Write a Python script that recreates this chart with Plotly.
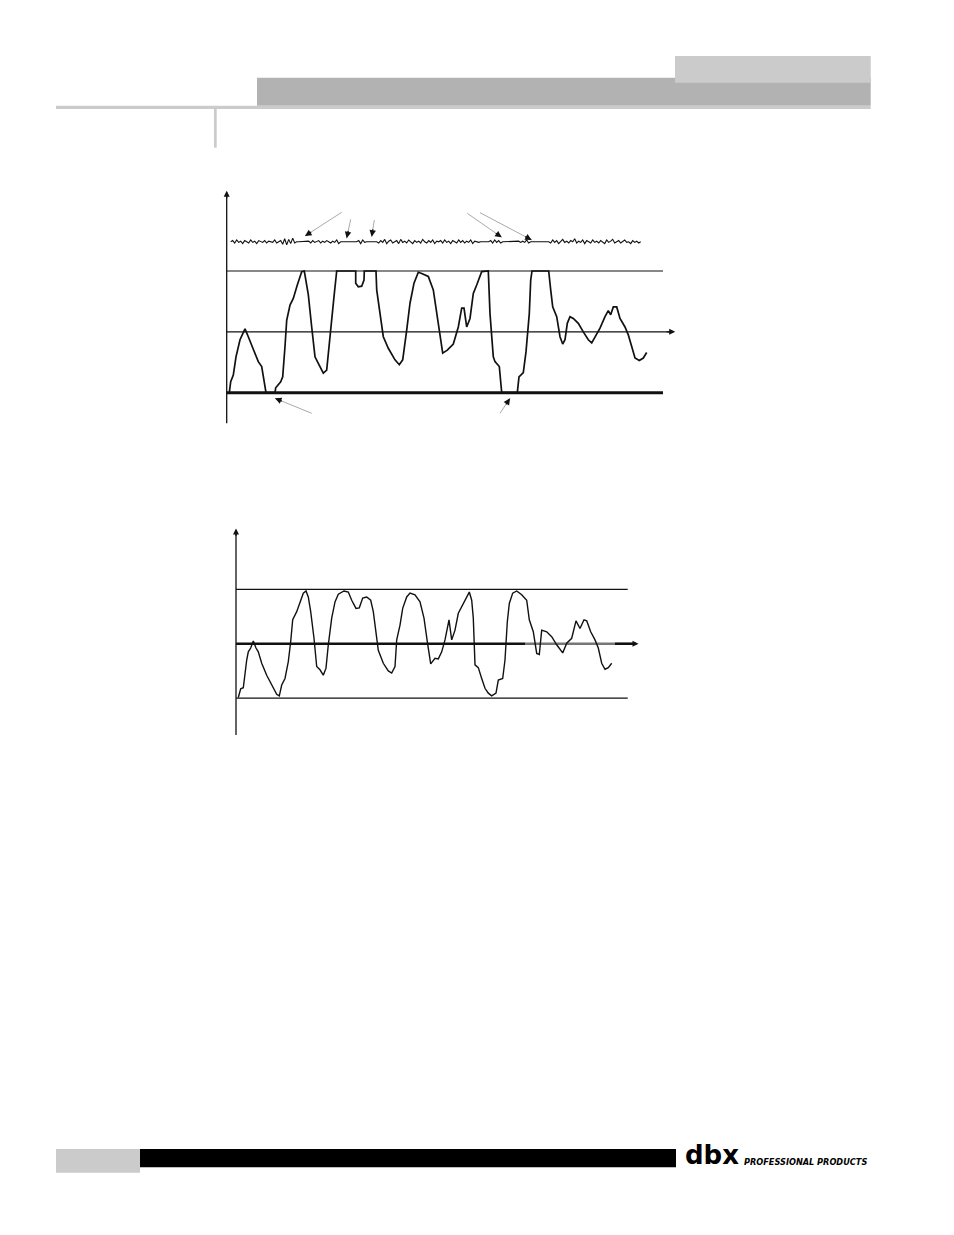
import plotly.graph_objects as go

W, H = 954, 1235
OFF = 8  # page body margin of the html output

# ---------------- data ----------------
# Figure 1 (upper): input programme signal. time units, level: 0 = centre line, +/-1 = threshold lines
sig1_t = [2.6, 4.0, 6.6, 9.3, 13.3, 18.3, 21.6, 26.6, 31.6, 35.0, 39.3, 48.3, 49.0, 54.0, 56.0, 58.3,
          60.0, 63.3, 66.6, 70.6, 75.0, 77.6, 80.0, 81.6, 85.0, 88.3, 91.6, 96.6, 100.0, 103.3, 107.3,
          110.0, 129.0, 129.0, 131.6, 135.0, 137.3, 137.6, 149.3, 150.0, 153.3, 156.6, 161.6, 168.3,
          172.6, 176.0, 180.0, 183.3, 187.3, 191.6, 195.0, 201.6, 206.6, 211.6, 216.0, 220.6, 226.6,
          231.6, 235.0, 237.3, 240.0, 243.3, 246.6, 250.0, 255.0, 261.6, 263.3, 266.6, 268.3, 272.6,
          275.0, 290.6, 292.3, 296.6, 299.3, 302.6, 304.0, 305.3, 322.0, 324.0, 326.0, 330.0, 333.3,
          336.0, 338.3, 340.6, 343.3, 346.6, 351.6, 356.6, 361.6, 365.0, 368.3, 373.3, 378.3, 381.6,
          384.0, 386.6, 390.0, 393.3, 398.3, 401.6, 405.0, 408.3, 412.6, 416.6, 420.0]
sig1_lv = [-1.0, -0.82, -0.71, -0.41, -0.13, 0.05, -0.08, -0.30, -0.49, -0.57, -1.0, -1.0, -0.92, -0.82,
           -0.74, -0.24, 0.19, 0.44, 0.55, 0.77, 0.99, 1.0, 0.80, 0.61, 0.08, -0.41, -0.52, -0.68, -0.63,
           -0.13, 0.58, 1.0, 1.0, 0.80, 0.74, 0.75, 0.85, 1.0, 1.0, 0.69, 0.30, -0.08, -0.27, -0.46,
           -0.54, -0.46, 0.03, 0.47, 0.80, 0.98, 0.96, 0.91, 0.69, 0.14, -0.35, -0.30, -0.20, 0.08,
           0.39, 0.39, 0.08, 0.22, 0.63, 0.77, 0.99, 1.0, 0.30, -0.41, -0.49, -0.57, -1.0, -1.0, -0.74,
           -0.67, -0.33, 0.30, 0.85, 1.0, 1.0, 0.69, 0.41, 0.25, -0.08, -0.20, -0.13, 0.14, 0.25, 0.22,
           0.14, 0.0, -0.13, -0.18, -0.08, 0.06, 0.25, 0.35, 0.28, 0.41, 0.41, 0.22, 0.08, -0.05,
           -0.24, -0.43, -0.47, -0.43, -0.34]

# Figure 1: noise floor trace above the signal (sampled every 2 time units)
noise_t = list(range(4, 416, 2))
noise_lv = [1.48, 1.50, 1.46, 1.51, 1.47, 1.49, 1.45, 1.50, 1.48, 1.46, 1.51, 1.47, 1.49, 1.45, 1.50,
            1.48, 1.47, 1.50, 1.46, 1.49, 1.48, 1.47, 1.51, 1.46, 1.48, 1.50,
            1.44, 1.53, 1.43, 1.52, 1.45, 1.54, 1.46,
            1.48, 1.48, 1.48, 1.48, 1.48, 1.48,
            1.49, 1.46, 1.50, 1.47, 1.48, 1.50, 1.46, 1.49, 1.47, 1.50, 1.48, 1.46, 1.49, 1.47,
            1.51, 1.45, 1.48, 1.48, 1.48, 1.48, 1.48, 1.48, 1.48, 1.48, 1.48,
            1.50, 1.45, 1.51, 1.47,
            1.48, 1.48, 1.48, 1.48, 1.48, 1.48,
            1.46, 1.50, 1.47, 1.52, 1.45, 1.49, 1.51, 1.46, 1.48, 1.50, 1.45, 1.52, 1.47, 1.49, 1.46,
            1.51, 1.48, 1.45, 1.50, 1.47, 1.49, 1.46, 1.52, 1.48, 1.46, 1.50, 1.47, 1.51, 1.45, 1.49,
            1.48, 1.50, 1.46, 1.51, 1.47, 1.49, 1.45, 1.50, 1.48, 1.46, 1.51, 1.47, 1.50, 1.46, 1.49,
            1.47, 1.51, 1.45, 1.49, 1.48, 1.47,
            1.48, 1.48, 1.47, 1.48, 1.48,
            1.50, 1.46, 1.51, 1.47, 1.50, 1.46,
            1.48, 1.48, 1.48, 1.48, 1.48, 1.48, 1.48, 1.48,
            1.49, 1.47, 1.49, 1.47, 1.51, 1.46,
            1.48, 1.48, 1.48, 1.48, 1.48, 1.48, 1.48, 1.48, 1.48, 1.48,
            1.46, 1.51, 1.47, 1.50, 1.45, 1.49, 1.52, 1.47, 1.49, 1.46, 1.50, 1.48, 1.53, 1.46, 1.49,
            1.47, 1.51, 1.45, 1.50, 1.48, 1.46, 1.51, 1.47, 1.49, 1.46, 1.50, 1.48, 1.45, 1.51, 1.47,
            1.49, 1.52, 1.46, 1.48, 1.50, 1.46, 1.49, 1.51, 1.47, 1.48, 1.45, 1.50, 1.47, 1.49, 1.46,
            1.48]

# Figure 2 (lower): processed signal
sig2_t = [2.3, 4.7, 7.3, 9.0, 10.7, 12.3, 14.7, 17.3, 20.0, 22.3, 25.7, 30.7, 35.7, 40.7, 43.3, 45.7,
          49.0, 52.3, 54.7, 56.7, 60.7, 64.0, 67.3, 70.0, 72.3, 74.7, 78.0, 80.7, 84.0, 87.3, 90.0,
          92.3, 95.7, 99.0, 102.3, 108.0, 112.3, 115.7, 120.0, 123.3, 126.7, 130.7, 134.7, 137.3,
          140.0, 142.3, 147.3, 152.3, 155.7, 159.0, 160.7, 164.0, 166.7, 170.7, 174.0, 179.0, 184.0,
          188.0, 191.3, 194.7, 199.0, 202.3, 205.7, 209.0, 211.3, 213.0, 215.7, 219.0, 222.3, 224.7,
          229.0, 233.3, 235.7, 237.3, 239.0, 242.3, 245.7, 249.0, 252.3, 255.7, 260.0, 262.3, 266.7,
          269.0, 271.3, 273.3, 276.7, 280.7, 285.7, 290.7, 293.3, 297.3, 300.7, 303.3, 305.7, 310.7,
          315.7, 320.7, 326.7, 330.7, 335.7, 340.0, 344.0, 348.0, 350.7, 354.7, 359.0, 362.3, 365.7,
          369.0, 372.3, 375.7]
sig2_lv = [-0.99, -0.83, -0.81, -0.52, -0.30, -0.15, -0.08, 0.05, -0.08, -0.15, -0.36, -0.58, -0.76,
           -0.93, -0.96, -0.76, -0.64, -0.33, 0.04, 0.44, 0.59, 0.77, 0.93, 0.97, 0.86, 0.59, 0.10,
           -0.42, -0.48, -0.58, -0.45, -0.02, 0.47, 0.77, 0.91, 0.97, 0.95, 0.80, 0.65, 0.66, 0.84,
           0.86, 0.80, 0.59, 0.22, -0.12, -0.36, -0.50, -0.54, -0.42, 0.07, 0.34, 0.65, 0.86, 0.93,
           0.90, 0.77, 0.47, 0.04, -0.37, -0.27, -0.28, -0.15, 0.07, 0.28, 0.44, 0.07, 0.25, 0.56,
           0.65, 0.80, 0.95, 0.80, 0.47, -0.39, -0.44, -0.64, -0.82, -0.91, -0.96, -0.91, -0.67,
           -0.64, -0.30, 0.40, 0.74, 0.93, 0.97, 0.90, 0.80, 0.44, 0.22, -0.18, -0.20, 0.25, 0.22,
           0.13, -0.02, -0.17, 0.01, 0.10, 0.42, 0.28, 0.44, 0.42, 0.22, 0.07, -0.08, -0.36, -0.47,
           -0.44, -0.36]

# ---------------- geometry helpers ----------------
def PX(x):
    return (x - OFF) / W


def PY(y):
    return 1 - (y - OFF) / H


# chart frames: origin (px), px per time unit, centre line (px), px per level unit, pixel box
C1 = dict(x0=226.7, xs=1.0, y0=331.85, ys=60.85, box=(215, 180, 700, 430))
C2 = dict(x0=236.0, xs=1.0, y0=643.7, ys=54.35, box=(225, 515, 700, 745))


def frame(c):
    bx0, by0, bx1, by1 = c['box']
    xd = [PX(bx0), PX(bx1)]
    yd = [PY(by1), PY(by0)]
    xr = [(bx0 - c['x0']) / c['xs'], (bx1 - c['x0']) / c['xs']]
    yr = [(c['y0'] - by1) / c['ys'], (c['y0'] - by0) / c['ys']]
    return xd, yd, xr, yr


fig = go.Figure()

fig.add_trace(go.Scatter(x=noise_t, y=noise_lv, mode='lines', xaxis='x', yaxis='y',
                         line=dict(color='#111', width=1.1), hoverinfo='skip'))
fig.add_trace(go.Scatter(x=sig1_t, y=sig1_lv, mode='lines', xaxis='x', yaxis='y',
                         line=dict(color='#111', width=1.7), hoverinfo='skip'))
fig.add_trace(go.Scatter(x=sig2_t, y=sig2_lv, mode='lines', xaxis='x2', yaxis='y2',
                         line=dict(color='#111', width=1.4), hoverinfo='skip'))

shapes = []
annotations = []


def dline(xr, yr, x0, y0, x1, y1, width=1.0, color='#111'):
    shapes.append(dict(type='line', xref=xr, yref=yr, x0=x0, y0=y0, x1=x1, y1=y1,
                       line=dict(color=color, width=width), layer='below'))


def head(xr, yr, x, y, dx, dy, size=1.0, width=1.2):
    # black arrow head at (x, y) whose tail lies dx, dy pixels away
    annotations.append(dict(xref=xr, yref=yr, x=x, y=y, ax=dx, ay=dy, text='', showarrow=True,
                            arrowhead=2, arrowsize=size, arrowwidth=width, arrowcolor='#111',
                            axref='pixel', ayref='pixel'))


# chart 1 axes & threshold lines
dline('x', 'y', 0, -1.5, 0, 2.25, 1.3)
head('x', 'y', 0, 2.32, 0, 9)
dline('x', 'y', 0, 1, 436.3, 1, 1.1)
dline('x', 'y', 0, 0, 444, 0, 1.1)
head('x', 'y', 448.5, 0, -10, 0)
dline('x', 'y', 0, -1, 436.3, -1, 3.0)

# chart 2 axes & threshold lines
dline('x2', 'y2', 0, -1.68, 0, 2.05, 1.3)
head('x2', 'y2', 0, 2.12, 0, 9)
dline('x2', 'y2', 0, 1, 391.7, 1, 1.3)
dline('x2', 'y2', 0, -1, 391.7, -1, 1.3)
dline('x2', 'y2', 0, 0, 289, 0, 2.6)
dline('x2', 'y2', 289, 0, 379, 0, 2.6, '#777')
dline('x2', 'y2', 379, 0, 398, 0, 2.6)
head('x2', 'y2', 402.5, 0, -10, 0)

# pointer arrows (gray shaft, black head) in pixel space
pointers = [((305, 236), (341.7, 212.3)), ((346.7, 238.3), (350.7, 219.3)),
            ((371.7, 236.7), (374.3, 220.0)), ((501.7, 237.3), (467.3, 213.3)),
            ((531.7, 240.0), (480.0, 212.7)), ((275.0, 398.3), (311.7, 413.3)),
            ((510.0, 398.3), (500.0, 413.3))]
for (hx, hy), (tx, ty) in pointers:
    shapes.append(dict(type='line', xref='paper', yref='paper', x0=PX(hx), y0=PY(hy),
                       x1=PX(tx), y1=PY(ty), line=dict(color='#aaaaaa', width=1)))
    dx, dy = tx - hx, ty - hy
    L = (dx * dx + dy * dy) ** 0.5
    head('paper', 'paper', PX(hx), PY(hy), dx / L * 9, dy / L * 9, 1.0, 1.3)


def rect(x0, y0, x1, y1, color):
    shapes.append(dict(type='rect', xref='paper', yref='paper', x0=PX(x0), y0=PY(y1),
                       x1=PX(x1), y1=PY(y0), fillcolor=color, line=dict(width=0), layer='above'))


# page header
rect(257, 77.7, 870.7, 105.7, '#b2b2b2')
rect(675, 56, 870.7, 82.7, '#cbcbcb')
rect(56, 105.7, 870.7, 109, '#cbcbcb')
rect(214, 109, 216.7, 147.7, '#cbcbcb')

# page footer
rect(56, 1149, 140, 1172.7, '#cbcbcb')
rect(140, 1149, 676, 1167.3, '#000000')

annotations.append(dict(xref='paper', yref='paper', x=PX(683), y=PY(1166), xanchor='left',
                        yanchor='bottom', text='<b>dbx</b>', showarrow=False, yshift=-6,
                        font=dict(family='DejaVu Sans', size=26, color='#000')))
annotations.append(dict(xref='paper', yref='paper', x=PX(742), y=PY(1166), xanchor='left',
                        yanchor='bottom', text='<b><i>PROFESSIONAL PRODUCTS</i></b>', showarrow=False,
                        yshift=-3,
                        font=dict(family='DejaVu Sans Condensed, Liberation Sans Narrow, sans-serif',
                                  size=9.1, color='#000')))

xd1, yd1, xr1, yr1 = frame(C1)
xd2, yd2, xr2, yr2 = frame(C2)

fig.update_layout(
    width=W, height=H, margin=dict(l=0, r=0, t=0, b=0),
    paper_bgcolor='white', plot_bgcolor='rgba(0,0,0,0)', showlegend=False,
    xaxis=dict(domain=xd1, range=xr1, visible=False, fixedrange=True),
    yaxis=dict(domain=yd1, range=yr1, visible=False, fixedrange=True, anchor='x'),
    xaxis2=dict(domain=xd2, range=xr2, visible=False, fixedrange=True, anchor='y2'),
    yaxis2=dict(domain=yd2, range=yr2, visible=False, fixedrange=True, anchor='x2'),
    shapes=shapes, annotations=annotations,
)

fig.write_html("out.html")
